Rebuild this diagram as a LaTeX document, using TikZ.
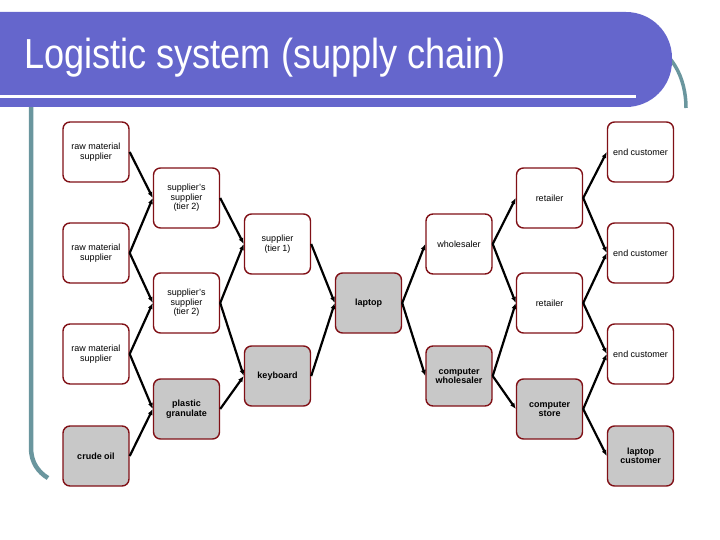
\documentclass[tikz,border=0pt]{standalone}
\usepackage{fontspec}
\setmainfont{Liberation Sans}
\newfontfamily\titlefont[FakeStretch=0.86]{Liberation Sans}
\usetikzlibrary{arrows.meta}
\begin{document}
\begin{tikzpicture}[x=1pt, y=-1pt,
    stage/.style={draw=box-red, line width=1.4pt, rounded corners=7pt, fill=white,
      minimum width=66pt, minimum height=60pt, inner sep=1pt, align=center,
      font=\fontsize{9}{9.5}\selectfont},
    part/.style={stage, fill=box-gray, font=\fontsize{9}{9.5}\selectfont\bfseries},
    flow/.style={-{Latex[length=6pt,width=5pt]}, line width=2.2pt}]
    \definecolor{title-blue}{RGB}{101,102,204}
    \definecolor{frame-teal}{RGB}{106,150,158}
    \definecolor{box-red}{RGB}{128,16,22}
    \definecolor{box-gray}{RGB}{200,200,200}
    \useasboundingbox (0,0) rectangle (720,540);
    % slide frame and title bar
    \draw[frame-teal, line width=4.5pt] (31,100) -- (31,448) .. controls (31,462) and (38,472) .. (48,478);
    \draw[frame-teal, line width=3.5pt] (640,40) .. controls (672,48) and (686,78) .. (686,108);
    \fill[title-blue, rounded corners=46pt] (-60,12) rectangle (672,107);
    \draw[white, line width=3pt] (0,97) -- (636,97);
    \node[anchor=base west, text=white, font=\titlefont\fontsize{42}{42}\selectfont, inner sep=0pt]
      (title) at (24,69) {Logistic system (supply chain)};
    % sources
    \node[stage] (raw1) at (96,152) {raw material\\supplier};
    \node[stage] (raw2) at (96,253) {raw material\\supplier};
    \node[stage] (raw3) at (96,354) {raw material\\supplier};
    \node[part]  (oil)  at (96,456) {crude oil};
    % tier 2
    \node[stage] (tierA)     at (186.5,198) {supplier's\\supplier\\(tier 2)};
    \node[stage] (tierB)     at (186.5,303) {supplier's\\supplier\\(tier 2)};
    \node[part]  (granulate) at (186.5,409) {plastic\\granulate};
    % tier 1
    \node[stage] (tierone)  at (277.5,244) {supplier\\(tier 1)};
    \node[part]  (keyboard) at (277.5,376) {keyboard};
    % product
    \node[part] (laptop) at (368.5,303) {laptop};
    % distribution
    \node[stage] (wholesaler)     at (459,244) {wholesaler};
    \node[part]  (compwholesaler) at (459,376) {computer\\wholesaler};
    \node[stage] (retailerA) at (549.5,198) {retailer};
    \node[stage] (retailerB) at (549.5,303) {retailer};
    \node[part]  (store)     at (549.5,409) {computer\\store};
    % customers
    \node[stage] (endA)    at (640.5,152) {end customer};
    \node[stage] (endB)    at (640.5,253) {end customer};
    \node[stage] (endC)    at (640.5,354) {end customer};
    \node[part]  (lapcust) at (640.5,456) {laptop\\customer};
    % flows
    \draw[flow] (raw1.east) -- (tierA.west);
    \draw[flow] (raw2.east) -- (tierA.west);
    \draw[flow] (raw2.east) -- (tierB.west);
    \draw[flow] (raw3.east) -- (tierB.west);
    \draw[flow] (raw3.east) -- (granulate.west);
    \draw[flow] (oil.east) -- (granulate.west);
    \draw[flow] (tierA.east) -- (tierone.west);
    \draw[flow] (tierB.east) -- (tierone.west);
    \draw[flow] (tierB.east) -- (keyboard.west);
    \draw[flow] (granulate.east) -- (keyboard.west);
    \draw[flow] (tierone.east) -- (laptop.west);
    \draw[flow] (keyboard.east) -- (laptop.west);
    \draw[flow] (laptop.east) -- (wholesaler.west);
    \draw[flow] (laptop.east) -- (compwholesaler.west);
    \draw[flow] (wholesaler.east) -- (retailerA.west);
    \draw[flow] (wholesaler.east) -- (retailerB.west);
    \draw[flow] (compwholesaler.east) -- (retailerB.west);
    \draw[flow] (compwholesaler.east) -- (store.west);
    \draw[flow] (retailerA.east) -- (endA.west);
    \draw[flow] (retailerA.east) -- (endB.west);
    \draw[flow] (retailerB.east) -- (endB.west);
    \draw[flow] (retailerB.east) -- (endC.west);
    \draw[flow] (store.east) -- (endC.west);
    \draw[flow] (store.east) -- (lapcust.west);
  \end{tikzpicture}
\end{document}
